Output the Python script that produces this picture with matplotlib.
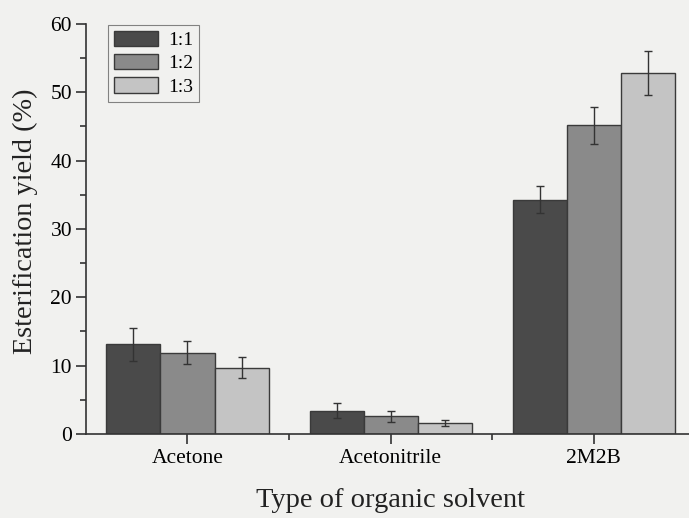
import numpy as np
import matplotlib.pyplot as plt

plt.rcParams['font.family'] = ['Liberation Serif', 'DejaVu Serif']

# data
solvents = ['Acetone', 'Acetonitrile', '2M2B']
ratios = ['1:1', '1:2', '1:3']
yield_11 = [13.1, 3.4, 34.3]
yield_12 = [11.9, 2.6, 45.2]
yield_13 = [9.7, 1.6, 52.8]
err_11 = [2.4, 1.1, 2.0]
err_12 = [1.7, 0.8, 2.7]
err_13 = [1.5, 0.4, 3.2]

values = [yield_11, yield_12, yield_13]
errors = [err_11, err_12, err_13]
colors = ['#4a4a4a', '#8a8a8a', '#c4c4c4']

bg = '#f1f1ef'
fig = plt.figure(figsize=(6.89, 5.18), dpi=100, facecolor=bg)
ax = fig.add_axes([0.1248, 0.1622, 0.884, 0.7915])
ax.set_facecolor(bg)

x = np.arange(1, len(solvents) + 1)
w = 0.266
for i in range(3):
    ax.bar(x + (i - 1) * w, values[i], w, color=colors[i], edgecolor='#3a3a3a',
           linewidth=1.0, label=ratios[i], zorder=2)
    ax.errorbar(x + (i - 1) * w, values[i], yerr=errors[i], fmt='none',
                ecolor='#333333', elinewidth=1.0, capsize=3, capthick=1.0, zorder=3)

ax.set_xlim(0.5, 3.5)
ax.set_ylim(0, 60)
ax.set_xticks(x)
ax.set_xticklabels(solvents, fontsize=15.5)
ax.set_xticks([1.5, 2.5, 3.5], minor=True)
ax.set_yticks(range(0, 61, 10))
ax.set_yticks(range(5, 60, 10), minor=True)
ax.tick_params(axis='y', which='major', labelsize=15.5, length=7, width=1.2, color='#333333', pad=3)
ax.tick_params(axis='y', which='minor', length=4, width=1.2, color='#333333')
ax.tick_params(axis='x', which='major', length=7, width=1.2, color='#333333', pad=4)
ax.tick_params(axis='x', which='minor', length=4, width=1.2, color='#333333')

for s in ['top', 'right']:
    ax.spines[s].set_visible(False)
for s in ['left', 'bottom']:
    ax.spines[s].set_color('#333333')
    ax.spines[s].set_linewidth(1.2)

ax.set_ylabel('Esterification yield (%)', fontsize=20.3, color='#222222')
ax.yaxis.set_label_coords(-0.078, 0.52)
ax.set_xlabel('Type of organic solvent', fontsize=20.5, color='#222222', labelpad=14)

leg = ax.legend(loc='upper left', bbox_to_anchor=(0.036, 0.998), borderaxespad=0,
                fontsize=14, frameon=True, fancybox=False, edgecolor='#666666',
                handlelength=2.3, handleheight=0.85, handletextpad=0.5,
                borderpad=0.3, labelspacing=0.25)
leg.get_frame().set_facecolor(bg)
leg.get_frame().set_linewidth(0.8)

fig.savefig('out.png', dpi=100, facecolor=bg)
